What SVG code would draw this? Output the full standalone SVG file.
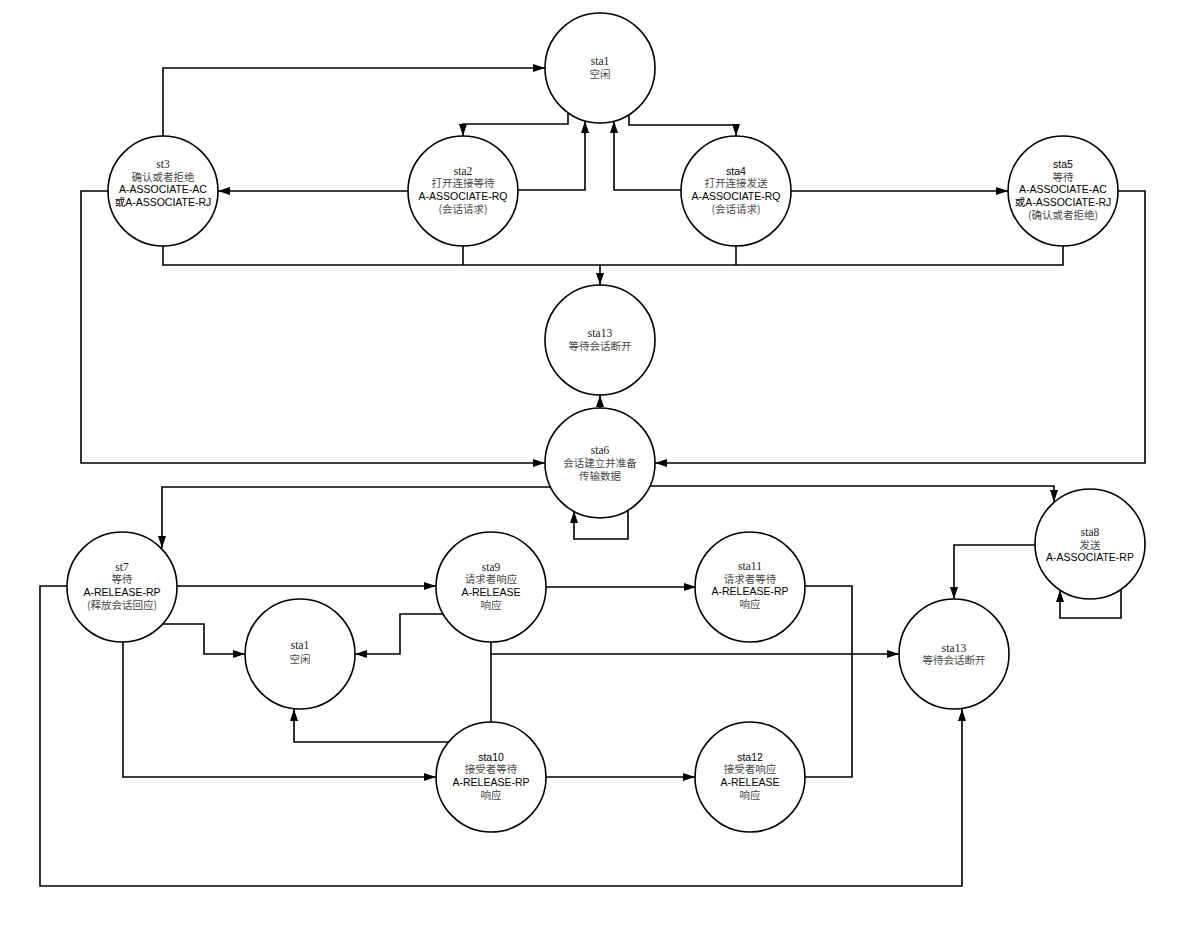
<svg xmlns="http://www.w3.org/2000/svg" width="1200" height="927" viewBox="0 0 1200 927">
<style>
.n circle{fill:#fff;stroke:#000;stroke-width:1.6}
text{font-size:10.5px;text-anchor:middle}
.s{font-family:"Liberation Serif","Noto Sans CJK SC",serif;font-size:11.5px;fill:#222}
.c{font-family:"Noto Sans CJK SC",sans-serif;fill:#4a4a4a}
.e{font-family:"Liberation Sans","Noto Sans CJK SC",sans-serif;fill:#000}
#edges path{fill:none;stroke:#000;stroke-width:1.6}
#edges path.a{marker-end:url(#arr)}
</style>
<defs>
<marker id="arr" markerUnits="userSpaceOnUse" markerWidth="13" markerHeight="9" refX="12" refY="4" orient="auto">
<path d="M0,0 L12,4 L0,8 z" fill="#000"/>
</marker>
</defs>
<rect width="1200" height="927" fill="#fff"/>
<g id="edges">
<path class="a" d="M163,136 V68 H545"/>
<path class="a" d="M568,113 V124 H463 V136"/>
<path class="a" d="M518,190 H585 V121"/>
<path class="a" d="M681,190 H614 V121"/>
<path class="a" d="M629,115 V125 H736 V136"/>
<path class="a" d="M408,191 H218"/>
<path class="a" d="M791,191 H1008"/>
<path d="M163,246 V265 H1063 V246"/>
<path d="M463,246 V265"/>
<path d="M736,246 V265"/>
<path class="a" d="M600,265 V285"/>
<path class="a" d="M600,408 V395"/>
<path class="a" d="M108,191 H81 V463 H545"/>
<path class="a" d="M1118,191 H1145 V463 H655"/>
<path class="a" d="M550,487 H162 V548"/>
<path class="a" d="M649,486 H1054 V502"/>
<path class="a" d="M628,510 V539 H574 V511"/>
<path class="a" d="M177,586 H436"/>
<path class="a" d="M163,624 H204 V654 H245"/>
<path class="a" d="M443,614 H400 V654 H355"/>
<path class="a" d="M123,642 V777 H436"/>
<path d="M491,642 V722"/>
<path class="a" d="M491,654 H899"/>
<path class="a" d="M449,742 H294 V709"/>
<path class="a" d="M546,777 H695"/>
<path class="a" d="M546,587 H696"/>
<path d="M805,586 H852 V777 H805"/>
<path class="a" d="M67,586 H40 V886 H962 V709"/>
<path class="a" d="M1036,545 H954 V599"/>
<path class="a" d="M1121,589 V618 H1060 V590"/>
</g>
<g id="sta1" class="n"><circle cx="600" cy="68" r="55"/>
<text class="s" x="600" y="65">sta1</text><text class="c" x="600" y="78">空闲</text></g>
<g id="st3" class="n"><circle cx="163" cy="191" r="55"/>
<text class="s" x="163" y="168">st3</text><text class="c" x="163" y="181">确认或者拒绝</text>
<text class="e" x="163" y="193">A-ASSOCIATE-AC</text><text class="e" x="163" y="206">或A-ASSOCIATE-RJ</text></g>
<g id="sta2" class="n"><circle cx="463" cy="191" r="55"/>
<text class="s" x="463" y="175">sta2</text><text class="c" x="463" y="187">打开连接等待</text>
<text class="e" x="463" y="200">A-ASSOCIATE-RQ</text><text class="c" x="463" y="213">(会话请求)</text></g>
<g id="sta4" class="n"><circle cx="736" cy="191" r="55"/>
<text class="e" x="736" y="175">sta4</text><text class="c" x="736" y="187">打开连接发送</text>
<text class="e" x="736" y="200">A-ASSOCIATE-RQ</text><text class="c" x="736" y="213">(会话请求)</text></g>
<g id="sta5" class="n"><circle cx="1063" cy="191" r="55"/>
<text class="e" x="1063" y="168">sta5</text><text class="c" x="1063" y="181">等待</text>
<text class="e" x="1063" y="193">A-ASSOCIATE-AC</text><text class="e" x="1063" y="206">或A-ASSOCIATE-RJ</text>
<text class="c" x="1063" y="219">(确认或者拒绝)</text></g>
<g id="sta13a" class="n"><circle cx="600" cy="340" r="55"/>
<text class="s" x="600" y="337">sta13</text><text class="c" x="600" y="350">等待会话断开</text></g>
<g id="sta6" class="n"><circle cx="600" cy="463" r="55"/>
<text class="s" x="600" y="454">sta6</text><text class="c" x="600" y="467">会话建立并准备</text>
<text class="c" x="600" y="480">传输数据</text></g>
<g id="st7" class="n"><circle cx="122" cy="587" r="55"/>
<text class="s" x="122" y="571">st7</text><text class="c" x="122" y="583">等待</text>
<text class="e" x="122" y="596">A-RELEASE-RP</text><text class="c" x="122" y="609">(释放会话回应)</text></g>
<g id="sta9" class="n"><circle cx="491" cy="587" r="55"/>
<text class="s" x="491" y="571">sta9</text><text class="c" x="491" y="583">请求者响应</text>
<text class="e" x="491" y="596">A-RELEASE</text><text class="c" x="491" y="609">响应</text></g>
<g id="sta1b" class="n"><circle cx="300" cy="654" r="55"/>
<text class="s" x="300" y="649">sta1</text><text class="c" x="300" y="663">空闲</text></g>
<g id="sta11" class="n"><circle cx="750" cy="587" r="55"/>
<text class="s" x="750" y="570">sta11</text><text class="c" x="750" y="583">请求者等待</text>
<text class="e" x="750" y="595">A-RELEASE-RP</text><text class="c" x="750" y="608">响应</text></g>
<g id="sta8" class="n"><circle cx="1090" cy="544" r="55"/>
<text class="s" x="1090" y="536">sta8</text><text class="c" x="1090" y="549">发送</text>
<text class="e" x="1090" y="561">A-ASSOCIATE-RP</text></g>
<g id="sta13b" class="n"><circle cx="954" cy="654" r="55"/>
<text class="s" x="954" y="652">sta13</text><text class="c" x="954" y="664">等待会话断开</text></g>
<g id="sta10" class="n"><circle cx="491" cy="777" r="55"/>
<text class="e" x="491" y="761">sta10</text><text class="c" x="491" y="773">接受者等待</text>
<text class="e" x="491" y="786">A-RELEASE-RP</text><text class="c" x="491" y="799">响应</text></g>
<g id="sta12" class="n"><circle cx="750" cy="777" r="55"/>
<text class="e" x="750" y="761">sta12</text><text class="c" x="750" y="773">接受者响应</text>
<text class="e" x="750" y="786">A-RELEASE</text><text class="c" x="750" y="799">响应</text></g>
</svg>
